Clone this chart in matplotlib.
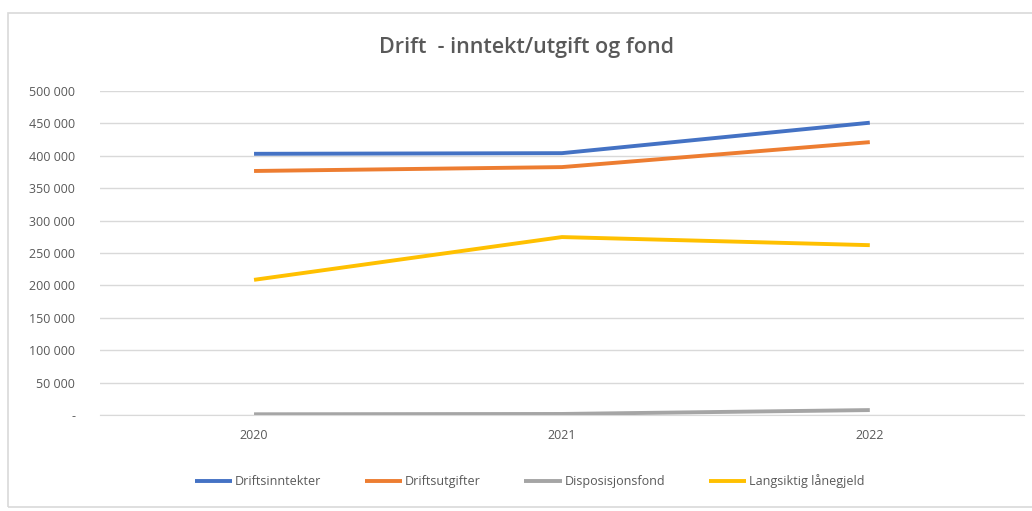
import matplotlib.pyplot as plt
from matplotlib.patches import Rectangle
from matplotlib.ticker import FuncFormatter

plt.rcParams['font.family'] = ['Open Sans', 'DejaVu Sans']

years = ['2020', '2021', '2022']
driftsinntekter = [403000, 404000, 451000]
driftsutgifter = [376500, 382500, 421000]
disposisjonsfond = [1000, 1500, 7500]
langsiktig_laanegjeld = [208500, 274500, 262000]

series = [
    ('Driftsinntekter', driftsinntekter, '#4472C4'),
    ('Driftsutgifter', driftsutgifter, '#ED7D31'),
    ('Disposisjonsfond', disposisjonsfond, '#A5A5A5'),
    ('Langsiktig lånegjeld', langsiktig_laanegjeld, '#FFC000'),
]

fig = plt.figure(figsize=(10.32, 5.11), dpi=100)
fig.patches.append(Rectangle((0.008, 0.008), 1.0, 0.966, transform=fig.transFigure,
                             fill=False, edgecolor='#D9D9D9', linewidth=1.2))

ax = fig.add_axes([0.097, 0.188, 0.895, 0.634])
x = range(len(years))
for name, vals, col in series:
    ax.plot(x, vals, color=col, linewidth=2.8, label=name, solid_capstyle='butt')

ax.set_xlim(-0.5, len(years) - 0.5)
ax.set_ylim(0, 500000)
ax.set_yticks(range(0, 500001, 50000))
ax.yaxis.set_major_formatter(FuncFormatter(
    lambda v, p: '-' if v == 0 else f'{int(v):,}'.replace(',', ' ')))
ax.set_xticks(list(x))
ax.set_xticklabels(years)
ax.grid(axis='y', color='#D9D9D9', linewidth=1)
ax.set_axisbelow(True)
for s in ['top', 'right', 'left']:
    ax.spines[s].set_visible(False)
ax.spines['bottom'].set_color('#D9D9D9')
ax.tick_params(axis='both', length=0, colors='#595959', labelsize=9)
ax.tick_params(axis='y', pad=18)
ax.tick_params(axis='x', pad=10)

fig.text(0.51, 0.908, 'Drift  - inntekt/utgift og fond', ha='center', va='center',
         fontsize=15.5, color='#595959', fontweight='semibold')

fig.legend(loc='center', bbox_to_anchor=(0.513, 0.058), ncol=4, frameon=False,
           fontsize=9, handlelength=3.0, handletextpad=0.2, columnspacing=3.5,
           labelcolor='#595959')

fig.savefig('out.png', dpi=100)
